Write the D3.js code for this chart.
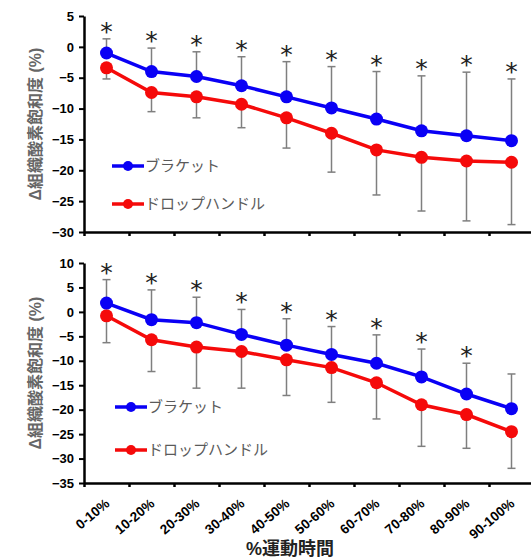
<!DOCTYPE html>
<html>
<head>
<meta charset="utf-8">
<script src="https://cdn.jsdelivr.net/npm/d3@7"></script>
<style>
  body { margin: 0; background: #fff; }
  svg text { font-family: "Liberation Sans", Arial, "Noto Sans CJK JP", sans-serif; }
</style>
</head>
<body>
<div id="chart"></div>
<script>
const categories = ["0-10%", "10-20%", "20-30%", "30-40%", "40-50%", "50-60%", "60-70%", "70-80%", "80-90%", "90-100%"];
const seriesNames = ["ブラケット", "ドロップハンドル"];

// upper panel
const topBracket = [-1.0, -4.0, -4.8, -6.3, -8.1, -9.9, -11.7, -13.6, -14.4, -15.2];
const topBracketErr = [2.3, 3.8, 4.0, 4.7, 5.7, 6.7, 7.7, 8.9, 10.3, 10.0];
const topDrop = [-3.4, -7.4, -8.1, -9.3, -11.5, -14.0, -16.7, -17.9, -18.5, -18.7];
const topDropErr = [1.8, 3.1, 3.4, 3.8, 4.9, 6.3, 7.3, 8.7, 9.7, 10.1];
const topSig = [true, true, true, true, true, true, true, true, true, true];
const topTicks = [5, 0, -5, -10, -15, -20, -25, -30];

// lower panel
const bottomBracket = [1.8, -1.6, -2.2, -4.6, -6.8, -8.7, -10.5, -13.3, -16.8, -19.8];
const bottomBracketErr = [4.8, 6.1, 5.2, 5.1, 5.4, 5.7, 5.8, 5.7, 6.3, 7.1];
const bottomDrop = [-0.8, -5.7, -7.2, -8.1, -9.8, -11.4, -14.5, -19.0, -21.0, -24.5];
const bottomDropErr = [5.5, 6.5, 8.4, 7.5, 7.3, 7.1, 7.4, 8.5, 6.9, 7.5];
const bottomSig = [true, true, true, true, true, true, true, true, true, false];
const bottomTicks = [10, 5, 0, -5, -10, -15, -20, -25, -30, -35];

const W = 531, H = 558;
const blue = "#0a00f5", red = "#f50a0a", errColor = "#7f7f7f";

const svg = d3.select("#chart").append("svg")
    .attr("width", W)
    .attr("height", H);

const x = d3.scaleBand()
    .domain(categories)
    .range([84, 534]);

// linear scale only for the tick marks at band edges
const xEdge = d3.scaleLinear()
    .domain([0, categories.length])
    .range([84, 534]);

function drawPanel(opts) {
    const y = d3.scaleLinear()
        .domain([d3.min(opts.ticks), d3.max(opts.ticks)])
        .range([opts.bottom, opts.top]);

    const g = svg.append("g");

    // y axis
    const yAxis = g.append("g")
        .attr("transform", "translate(84,0)")
        .call(d3.axisLeft(y).tickValues(opts.ticks).tickSize(5).tickSizeOuter(0).tickPadding(5));
    yAxis.select(".domain").attr("stroke", "#000").attr("stroke-width", 2.5);
    yAxis.selectAll(".tick line").attr("stroke", "#000").attr("stroke-width", 2);
    yAxis.selectAll(".tick text")
        .attr("fill", "#000")
        .style("font-size", "13px")
        .style("font-weight", "bold");

    // x axis
    const xAxis = g.append("g")
        .attr("transform", `translate(0,${opts.bottom})`)
        .call(d3.axisBottom(xEdge).ticks(10).tickSize(4).tickSizeOuter(0).tickFormat(""));
    xAxis.select(".domain").attr("stroke", "#000").attr("stroke-width", 2.5);
    xAxis.selectAll(".tick line").attr("stroke", "#000").attr("stroke-width", 2.5);

    if (opts.labels) {
        g.selectAll(".xlab")
            .data(categories)
            .enter().append("text")
            .attr("class", "xlab")
            .attr("text-anchor", "end")
            .attr("transform", d => `translate(${x(d) + x.bandwidth() / 2 + 4},${opts.bottom + 22}) rotate(-40)`)
            .style("font-size", "13.5px")
            .style("font-weight", "bold")
            .attr("fill", "#000")
            .text(d => d);
    }

    // y title
    g.append("text")
        .attr("transform", `translate(41,${(opts.top + opts.bottom) / 2}) rotate(-90)`)
        .attr("text-anchor", "middle")
        .attr("fill", "#666")
        .style("font-size", "16px")
        .style("font-weight", "bold")
        .text("Δ組織酸素飽和度 (%)");

    const cx = d => x(d) + x.bandwidth() / 2;

    // error bars: bracket upward, drop handle downward
    const errs = [
        { vals: opts.bracket, err: opts.bracketErr, dir: 1 },
        { vals: opts.drop, err: opts.dropErr, dir: -1 }
    ];
    errs.forEach(s => {
        categories.forEach((c, i) => {
            const end = y(s.vals[i] + s.dir * s.err[i]);
            g.append("line")
                .attr("x1", cx(c)).attr("x2", cx(c))
                .attr("y1", y(s.vals[i])).attr("y2", end)
                .attr("stroke", errColor).attr("stroke-width", 1.5);
            g.append("line")
                .attr("x1", cx(c) - 4).attr("x2", cx(c) + 4)
                .attr("y1", end).attr("y2", end)
                .attr("stroke", errColor).attr("stroke-width", 1.5);
        });
    });

    // significance stars
    categories.forEach((c, i) => {
        if (!opts.sig[i]) return;
        g.append("text")
            .attr("x", cx(c))
            .attr("y", y(opts.bracket[i] + opts.bracketErr[i]) + 1)
            .attr("text-anchor", "middle")
            .attr("fill", "#222")
            .style("font-family", "'DejaVu Sans', sans-serif")
            .style("font-size", "25px")
            .text("*");
    });

    const line = d3.line()
        .x((d, i) => cx(categories[i]))
        .y(d => y(d));

    [{ vals: opts.drop, color: red }, { vals: opts.bracket, color: blue }].forEach(s => {
        g.append("path")
            .datum(s.vals)
            .attr("fill", "none")
            .attr("stroke", s.color)
            .attr("stroke-width", 3.5)
            .attr("d", line);
        g.selectAll(null)
            .data(s.vals)
            .enter().append("circle")
            .attr("cx", (d, i) => cx(categories[i]))
            .attr("cy", d => y(d))
            .attr("r", 6.5)
            .attr("fill", s.color);
    });

    // legend
    const leg = [
        { name: seriesNames[0], color: blue, yy: opts.legY[0] },
        { name: seriesNames[1], color: red, yy: opts.legY[1] }
    ];
    leg.forEach(l => {
        g.append("line")
            .attr("x1", opts.legX).attr("x2", opts.legX + 32)
            .attr("y1", l.yy).attr("y2", l.yy)
            .attr("stroke", l.color).attr("stroke-width", 3.5);
        g.append("circle")
            .attr("cx", opts.legX + 16).attr("cy", l.yy).attr("r", 5)
            .attr("fill", l.color);
        g.append("text")
            .attr("x", opts.legX + 33)
            .attr("y", l.yy)
            .attr("dy", "0.36em")
            .attr("fill", "#5a5a5a")
            .style("font-size", "15px")
            .text(l.name);
    });
}

drawPanel({
    top: 16, bottom: 232, ticks: topTicks,
    bracket: topBracket, bracketErr: topBracketErr,
    drop: topDrop, dropErr: topDropErr, sig: topSig,
    labels: false, legX: 112, legY: [166, 204]
});

drawPanel({
    top: 263, bottom: 483, ticks: bottomTicks,
    bracket: bottomBracket, bracketErr: bottomBracketErr,
    drop: bottomDrop, dropErr: bottomDropErr, sig: bottomSig,
    labels: true, legX: 115, legY: [407, 450]
});

svg.append("text")
    .attr("x", 290)
    .attr("y", 555)
    .attr("text-anchor", "middle")
    .attr("fill", "#222")
    .style("font-size", "18px")
    .style("font-weight", "bold")
    .text("%運動時間");
</script>
</body>
</html>
